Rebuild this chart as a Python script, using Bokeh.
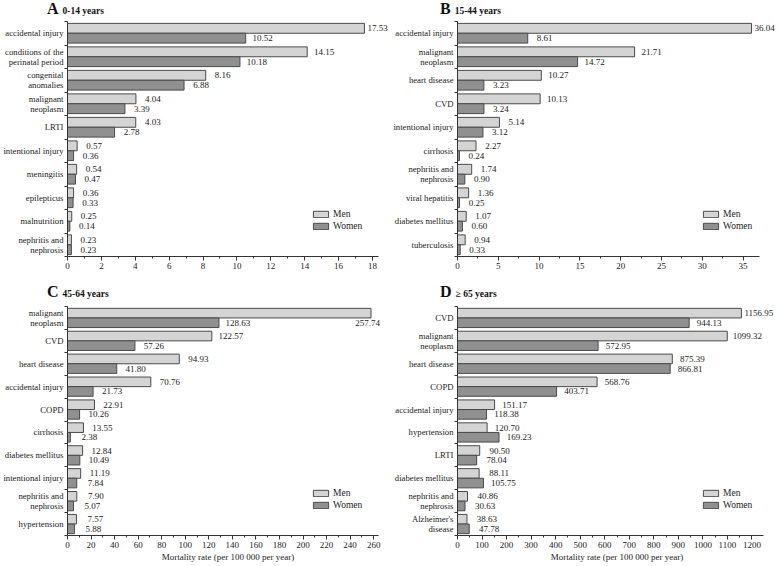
from bokeh.plotting import figure
from bokeh.models import (Range1d, FixedTicker, ColumnDataSource, LabelSet, Div,
                          Legend, LegendItem)
from bokeh.layouts import column, row
from bokeh.embed import file_html
from bokeh.resources import INLINE

# ---------------- data ----------------
a_causes = ["accidental injury", "conditions of the\nperinatal period", "congenital\nanomalies",
            "malignant\nneoplasm", "LRTI", "intentional injury", "meningitis", "epilepticus",
            "malnutrition", "nephritis and\nnephrosis"]
a_men = [17.53, 14.15, 8.16, 4.04, 4.03, 0.57, 0.54, 0.36, 0.25, 0.23]
a_women = [10.52, 10.18, 6.88, 3.39, 2.78, 0.36, 0.47, 0.33, 0.14, 0.23]

b_causes = ["accidental injury", "malignant\nneoplasm", "heart disease", "CVD",
            "intentional injury", "cirrhosis", "nephritis and\nnephrosis", "viral hepatitis",
            "diabetes mellitus", "tuberculosis"]
b_men = [36.04, 21.71, 10.27, 10.13, 5.14, 2.27, 1.74, 1.36, 1.07, 0.94]
b_women = [8.61, 14.72, 3.23, 3.24, 3.12, 0.24, 0.90, 0.25, 0.60, 0.33]

c_causes = ["malignant\nneoplasm", "CVD", "heart disease", "accidental injury", "COPD",
            "cirrhosis", "diabetes mellitus", "intentional injury", "nephritis and\nnephrosis",
            "hypertension"]
c_men = [257.74, 122.57, 94.93, 70.76, 22.91, 13.55, 12.84, 11.19, 7.90, 7.57]
c_women = [128.63, 57.26, 41.80, 21.73, 10.26, 2.38, 10.49, 7.84, 5.07, 5.88]

d_causes = ["CVD", "malignant\nneoplasm", "heart disease", "COPD", "accidental injury",
            "hypertension", "LRTI", "diabetes mellitus", "nephritis and\nnephrosis",
            "Alzheimer's\ndisease"]
d_men = [1156.95, 1099.32, 875.39, 568.76, 151.17, 120.70, 90.50, 88.11, 40.86, 38.63]
d_women = [944.13, 572.95, 866.81, 403.71, 118.38, 169.23, 78.04, 105.75, 30.63, 47.78]

a_ticks = [0, 2, 4, 6, 8, 10, 12, 14, 16, 18]
b_ticks = [0, 5, 10, 15, 20, 25, 30, 35]
c_ticks = [0, 20, 40, 60, 80, 100, 120, 140, 160, 180, 200, 220, 240, 260]
d_ticks = [0, 100, 200, 300, 400, 500, 600, 700, 800, 900, 1000, 1100, 1200]

x_title = "Mortality rate (per 100 000 per year)"

FONT = "Liberation Serif"
MEN_C = "#d4d4d4"
WOMEN_C = "#909090"
EDGE = "#4a4a4a"
TXT = "#222222"

LEFT_W, RIGHT_W = 390, 386
TITLE_H = 18


def heading(letter, subtitle, width, pad):
    html = ('<span style="font-family:\'Liberation Serif\';font-weight:bold;font-size:16px;'
            'color:#111">%s</span><span style="font-family:\'Liberation Serif\';'
            'font-weight:bold;font-size:9.5px;color:#111;padding-left:4px">%s</span>'
            % (letter, subtitle))
    return Div(text=html, width=width, height=TITLE_H, margin=(0, 0, 0, 0),
               styles={"padding-left": "%dpx" % pad, "line-height": "%dpx" % TITLE_H,
                       "white-space": "nowrap", "overflow": "visible"})


def panel(causes, men, women, axis_end, view_end, ticks, step, left, top,
          xlabel=None, off=17, top_below=False):
    n = len(causes)
    w = LEFT_W if left else RIGHT_W
    h = 265 if top else 263
    bl = 64 if left else 67
    br = 2 if left else 0
    bt = 3 if top else 5
    bb = 27
    p = figure(width=w, height=h, output_backend="svg", toolbar_location=None,
               x_range=Range1d(0, view_end), y_range=Range1d(n - 0.5, -0.5),
               min_border_left=bl, min_border_right=br,
               min_border_top=bt, min_border_bottom=bb)
    p.outline_line_color = None
    p.grid.visible = False
    p.background_fill_color = "white"
    p.border_fill_color = "white"

    idx = list(range(n))
    src = ColumnDataSource(dict(y=idx, men=men, women=women,
                                ym=[i - 0.21 for i in idx], yw=[i + 0.21 for i in idx]))
    rm = p.hbar(y="ym", left=0, right="men", height=0.42, source=src,
                fill_color=MEN_C, line_color=EDGE, line_width=1)
    rw = p.hbar(y="yw", left=0, right="women", height=0.42, source=src,
                fill_color=WOMEN_C, line_color=EDGE, line_width=1)

    # x axis
    minors = [t + step / 2 for t in ticks if t + step / 2 < axis_end]
    xa = p.xaxis[0]
    xa.bounds = (0, axis_end)
    xa.ticker = FixedTicker(ticks=ticks, minor_ticks=minors)
    xa.major_tick_in = 0
    xa.major_tick_out = 4
    xa.minor_tick_in = 0
    xa.minor_tick_out = 2
    xa.axis_line_color = "#333333"
    xa.major_tick_line_color = "#333333"
    xa.minor_tick_line_color = "#333333"
    xa.major_label_text_font = FONT
    xa.major_label_text_font_size = "9px"
    xa.major_label_text_color = TXT
    xa.major_label_standoff = 2
    if xlabel:
        xa.axis_label = xlabel
        xa.axis_label_text_font = FONT
        xa.axis_label_text_font_size = "9px"
        xa.axis_label_text_font_style = "normal"
        xa.axis_label_text_color = TXT
        xa.axis_label_standoff = 1

    # y axis: labels at centres, ticks at the boundaries
    ya = p.yaxis[0]
    ya.ticker = FixedTicker(ticks=idx, minor_ticks=[i - 0.5 for i in range(n + 1)])
    ya.major_tick_line_color = None
    ya.major_tick_in = 0
    ya.major_tick_out = 0
    ya.minor_tick_in = 0
    ya.minor_tick_out = 3
    ya.minor_tick_line_color = "#333333"
    ya.axis_line_color = "#333333"
    ya.major_label_overrides = {i: c for i, c in enumerate(causes)}
    ya.major_label_text_font = FONT
    ya.major_label_text_font_size = "8.7px"
    ya.major_label_text_color = TXT
    ya.major_label_standoff = 1
    ya.major_label_text_line_height = 1.0

    # value labels
    imax = max(range(n), key=lambda i: men[i])
    lx, ly, lt = [], [], []
    for i in range(n):
        if i != imax:
            lx.append(men[i]); ly.append(i - 0.21); lt.append("%.2f" % men[i])
        lx.append(women[i]); ly.append(i + 0.21); lt.append("%.2f" % women[i])
    lsrc = ColumnDataSource(dict(x=lx, y=ly, t=lt))
    p.add_layout(LabelSet(x="x", y="y", text="t", source=lsrc, x_offset=off,
                          text_align="center", text_baseline="middle",
                          text_font=FONT, text_font_size="9px", text_color=TXT))
    if top_below:
        ssrc = ColumnDataSource(dict(x=[men[imax]], y=[imax + 0.21], t=["%.2f" % men[imax]]))
        p.add_layout(LabelSet(x="x", y="y", text="t", source=ssrc, x_offset=9,
                              text_align="right", text_baseline="middle",
                              text_font=FONT, text_font_size="9px", text_color=TXT))
    else:
        ssrc = ColumnDataSource(dict(x=[men[imax]], y=[imax - 0.21], t=["%.2f" % men[imax]]))
        p.add_layout(LabelSet(x="x", y="y", text="t", source=ssrc, x_offset=3,
                              text_align="left", text_baseline="middle",
                              text_font=FONT, text_font_size="9px", text_color=TXT))

    # legend
    leg = Legend(items=[LegendItem(label="Men", renderers=[rm]),
                        LegendItem(label="Women", renderers=[rw])],
                 location=(244, 25), padding=0, margin=0, spacing=2,
                 glyph_width=19, glyph_height=8, label_height=8, label_standoff=3,
                 label_text_font=FONT, label_text_font_size="9.5px", label_text_color=TXT,
                 border_line_color=None, background_fill_alpha=0)
    p.add_layout(leg)
    return p


pA = panel(a_causes, a_men, a_women, 18.35, 18.95, a_ticks, 2, True, True, off=17)
pB = panel(b_causes, b_men, b_women, 37, 39.1, b_ticks, 5, False, True, off=17)
pC = panel(c_causes, c_men, c_women, 264, 272.6, c_ticks, 20, True, False,
           xlabel=x_title, off=19, top_below=True)
pD = panel(d_causes, d_men, d_women, 1247, 1300, d_ticks, 100, False, False,
           xlabel=x_title, off=20)

hA = heading("A", "0-14 years", LEFT_W, 47)
hB = heading("B", "15-44 years", RIGHT_W, 50)
hC = heading("C", "45-64 years", LEFT_W, 47)
hD = heading("D", "\u2265 65 years", RIGHT_W, 50)

layout = column(row(hA, hB, spacing=0), row(pA, pB, spacing=0),
                row(hC, hD, spacing=0), row(pC, pD, spacing=0), spacing=0)
open("out.html", "w").write(file_html(layout, INLINE))
